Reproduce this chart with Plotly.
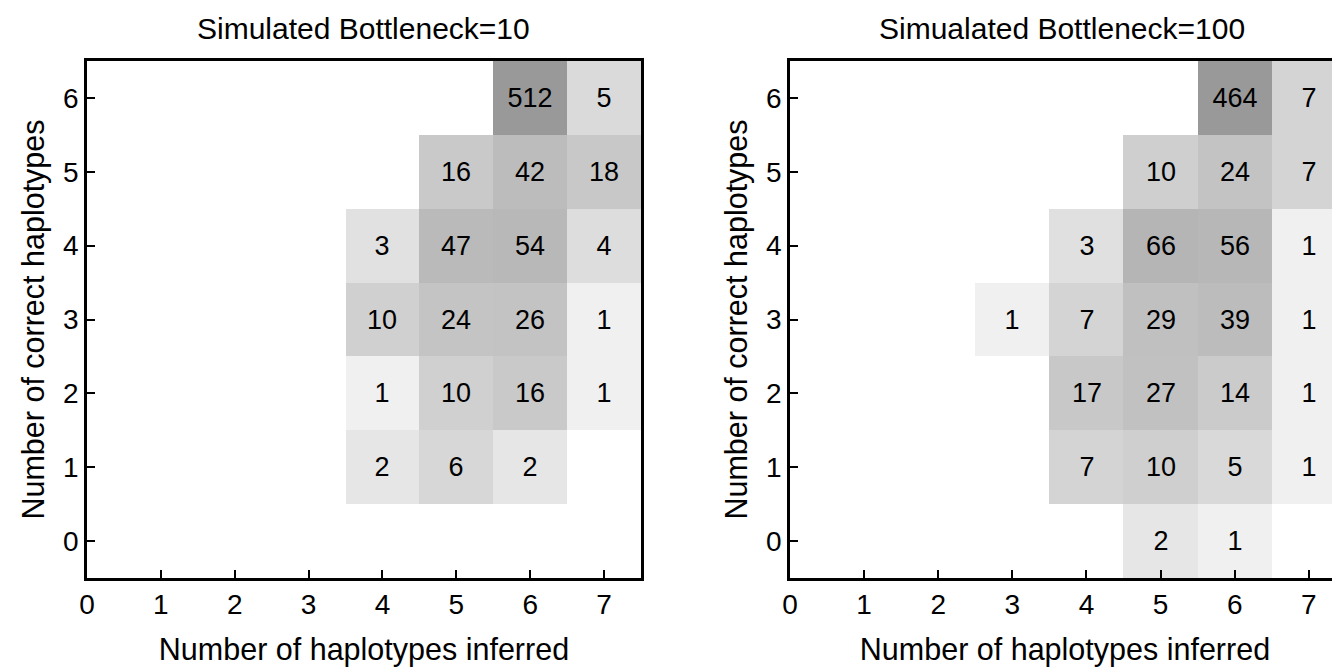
import math
import plotly.graph_objects as go

x_vals = [0, 1, 2, 3, 4, 5, 6, 7]
y_vals = [0, 1, 2, 3, 4, 5, 6]

# counts[y][x]; 0 = empty cell
counts_b10 = [
    [0, 0, 0, 0, 0, 0, 0, 0],
    [0, 0, 0, 0, 2, 6, 2, 0],
    [0, 0, 0, 0, 1, 10, 16, 1],
    [0, 0, 0, 0, 10, 24, 26, 1],
    [0, 0, 0, 0, 3, 47, 54, 4],
    [0, 0, 0, 0, 0, 16, 42, 18],
    [0, 0, 0, 0, 0, 0, 512, 5],
]
counts_b100 = [
    [0, 0, 0, 0, 0, 2, 1, 0],
    [0, 0, 0, 0, 7, 10, 5, 1],
    [0, 0, 0, 0, 17, 27, 14, 1],
    [0, 0, 0, 1, 7, 29, 39, 1],
    [0, 0, 0, 0, 3, 66, 56, 1],
    [0, 0, 0, 0, 0, 10, 24, 7],
    [0, 0, 0, 0, 0, 0, 464, 7],
]
titles = ["Simulated Bottleneck=10", "Simualated Bottleneck=100"]
x_title = "Number of haplotypes inferred"
y_title = "Number of correct haplotypes"

FONT = "Liberation Sans, Arial, Helvetica, sans-serif"
scale = [[0, "rgb(240,240,240)"], [1, "rgb(153,153,153)"]]

fig = go.Figure()
for i, counts in enumerate([counts_b10, counts_b100]):
    z = [[math.log(v) if v > 0 else None for v in row] for row in counts]
    txt = [[str(v) if v > 0 else "" for v in row] for row in counts]
    vmax = max(max(r) for r in counts)
    fig.add_trace(go.Heatmap(
        x=x_vals, y=y_vals, z=z, text=txt, texttemplate="%{text}",
        textfont=dict(size=27, color="black", family=FONT),
        colorscale=scale, zmin=0, zmax=math.log(vmax), showscale=False,
        hoverinfo="skip",
        xaxis="x" if i == 0 else "x2", yaxis="y" if i == 0 else "y2",
    ))

axis_common = dict(
    showgrid=False, zeroline=False, showline=True, linecolor="black", linewidth=2.5,
    ticks="inside", ticklen=8, tickwidth=2, tickcolor="black", automargin=False,
    tickfont=dict(size=28, color="black", family=FONT),
    title_font=dict(size=30.5, color="black", family=FONT),
)

fig.update_layout(
    width=1332, height=662,
    margin=dict(l=79, r=0, t=53, b=92),
    plot_bgcolor="white", paper_bgcolor="white",
    font=dict(family=FONT, color="black"),
    xaxis=dict(domain=[0, 0.4421], range=[0, 7.5], tickvals=x_vals, mirror=True,
               title=dict(text=x_title, standoff=20), anchor="y", **axis_common),
    yaxis=dict(domain=[0, 1], range=[-0.5, 6.5], tickvals=y_vals, mirror=True,
               title=dict(text=y_title, standoff=10), anchor="x", **axis_common),
    xaxis2=dict(domain=[0.561, 1], range=[0, 7.42], tickvals=x_vals, mirror=True,
                title=dict(text=x_title, standoff=20), anchor="y2", **axis_common),
    yaxis2=dict(domain=[0, 1], range=[-0.5, 6.5], tickvals=y_vals, mirror=False,
                title=dict(text=y_title, standoff=10), anchor="x2", **axis_common),
    annotations=[
        dict(text=titles[0], x=0.221, y=1, xref="paper", yref="paper", xanchor="center",
             yanchor="bottom", yshift=14, showarrow=False, font=dict(size=30, color="black", family=FONT)),
        dict(text=titles[1], x=0.7785, y=1, xref="paper", yref="paper", xanchor="center",
             yanchor="bottom", yshift=14, showarrow=False, font=dict(size=30, color="black", family=FONT)),
    ],
)
fig.write_html("out.html")
